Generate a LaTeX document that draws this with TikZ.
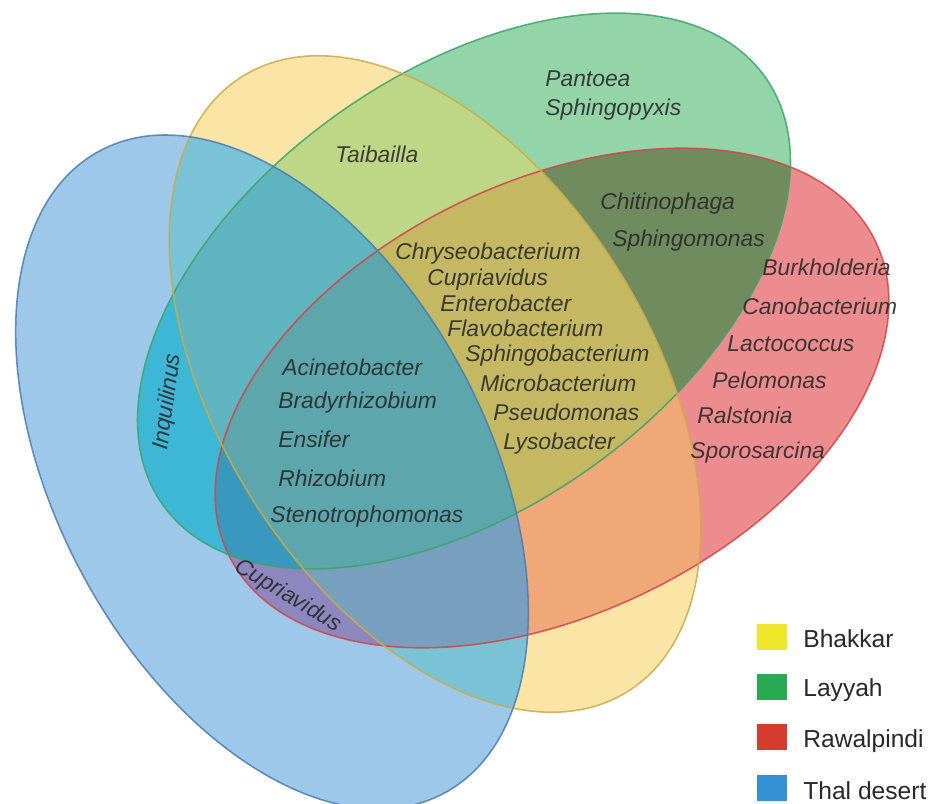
\documentclass[tikz,border=0pt]{standalone}
\usepackage{fontspec}
\setmainfont{Liberation Sans}
% single-set colours
\definecolor{cY}{RGB}{250,228,166}
\definecolor{cG}{RGB}{147,212,168}
\definecolor{cR}{RGB}{236,140,143}
\definecolor{cB}{RGB}{158,200,234}
% pairs
\definecolor{cYG}{RGB}{190,215,135}
\definecolor{cYR}{RGB}{240,168,120}
\definecolor{cYB}{RGB}{122,195,214}
\definecolor{cGR}{RGB}{112,140,95}
\definecolor{cGB}{RGB}{62,183,214}
\definecolor{cRB}{RGB}{140,135,190}
% triples
\definecolor{cYGR}{RGB}{196,184,98}
\definecolor{cYGB}{RGB}{95,180,192}
\definecolor{cYRB}{RGB}{120,160,190}
\definecolor{cGRB}{RGB}{58,152,190}
% all four
\definecolor{cYGRB}{RGB}{92,166,172}
% outlines
\definecolor{yelD}{RGB}{205,170,70}
\definecolor{grnD}{RGB}{60,165,105}
\definecolor{redD}{RGB}{210,70,70}
\definecolor{bluD}{RGB}{75,125,178}
% legend
\definecolor{yelL}{RGB}{238,232,40}
\definecolor{grnL}{RGB}{40,170,80}
\definecolor{redL}{RGB}{213,60,45}
\definecolor{bluL}{RGB}{50,145,210}
\definecolor{txt}{RGB}{40,40,40}
\begin{document}
\begin{tikzpicture}[x=0.02cm,y=-0.02cm,
  eY/.style={rotate around={-57.9:(435,384)}, insert path={(435,384) ellipse [x radius=7.26cm, y radius=4.32cm]}},
  eG/.style={rotate around={35.4:(464,291)}, insert path={(464,291) ellipse [x radius=7.39cm, y radius=4.35cm]}},
  eR/.style={rotate around={25.9:(552,398)}, insert path={(552,398) ellipse [x radius=7.19cm, y radius=4.32cm]}},
  eB/.style={rotate around={-61.8:(272,472)}, insert path={(272,472) ellipse [x radius=7.29cm, y radius=4.31cm]}},
  rim/.style={line width=0.9pt, draw opacity=0.85},
  sp/.style={anchor=base west, inner sep=0pt, text=txt, text opacity=0.88, font=\fontsize{13}{15}\selectfont\itshape},
  legbox/.style={minimum width=0.6cm, minimum height=0.54cm, inner sep=0pt},
  legtxt/.style={anchor=base west, inner sep=0pt, text=txt, font=\fontsize{14}{16}\selectfont}]
\useasboundingbox (0,0) rectangle (931,804);
% single sets
\fill[eR, fill=cR];
\fill[eG, fill=cG];
\fill[eY, fill=cY];
\fill[eB, fill=cB];
% pairs
\begin{scope}\clip[eY]; \fill[eG, fill=cYG];\end{scope}
\begin{scope}\clip[eY]; \fill[eR, fill=cYR];\end{scope}
\begin{scope}\clip[eY]; \fill[eB, fill=cYB];\end{scope}
\begin{scope}\clip[eG]; \fill[eR, fill=cGR];\end{scope}
\begin{scope}\clip[eG]; \fill[eB, fill=cGB];\end{scope}
\begin{scope}\clip[eR]; \fill[eB, fill=cRB];\end{scope}
% triples
\begin{scope}\clip[eY]; \clip[eG]; \fill[eR, fill=cYGR];\end{scope}
\begin{scope}\clip[eY]; \clip[eG]; \fill[eB, fill=cYGB];\end{scope}
\begin{scope}\clip[eY]; \clip[eR]; \fill[eB, fill=cYRB];\end{scope}
\begin{scope}\clip[eG]; \clip[eR]; \fill[eB, fill=cGRB];\end{scope}
% all four
\begin{scope}\clip[eY]; \clip[eG]; \clip[eR]; \fill[eB, fill=cYGRB];\end{scope}
% outlines
\draw[eR, rim, draw=redD];
\draw[eG, rim, draw=grnD];
\draw[eY, rim, draw=yelD];
\draw[eB, rim, draw=bluD];
% species
\node[sp] (pant) at (545,87) {Pantoea};
\node[sp] (sphx) at (545,116) {Sphingopyxis};
\node[sp] (taib) at (335,163) {Taibailla};
\node[sp] (chit) at (600,210) {Chitinophaga};
\node[sp] (sphm) at (612,247) {Sphingomonas};
\node[sp] (burk) at (762,276) {Burkholderia};
\node[sp] (cano) at (742,315) {Canobacterium};
\node[sp] (lact) at (727,352) {Lactococcus};
\node[sp] (pelo) at (712,389) {Pelomonas};
\node[sp] (rals) at (697,424) {Ralstonia};
\node[sp] (spor) at (690,459) {Sporosarcina};
\node[sp] (chry) at (395,260) {Chryseobacterium};
\node[sp] (cupa) at (427,286) {Cupriavidus};
\node[sp] (ente) at (440,312) {Enterobacter};
\node[sp] (flav) at (447,337) {Flavobacterium};
\node[sp] (sphb) at (465,362) {Sphingobacterium};
\node[sp] (micr) at (480,392) {Microbacterium};
\node[sp] (pseu) at (493,421) {Pseudomonas};
\node[sp] (lyso) at (503,450) {Lysobacter};
\node[sp] (acin) at (282,376) {Acinetobacter};
\node[sp] (brad) at (278,409) {Bradyrhizobium};
\node[sp] (ensi) at (278,448) {Ensifer};
\node[sp] (rhiz) at (278,487) {Rhizobium};
\node[sp] (sten) at (270,523) {Stenotrophomonas};
\node[sp, anchor=center, rotate=82] (inqu) at (168,402) {Inquilinus};
\node[sp, anchor=center, rotate=-31] (cupb) at (288,596) {Cupriavidus};
% legend
\node[legbox, fill=yelL] (lb1) at (772,637) {};
\node[legbox, fill=grnL] (lb2) at (772,687) {};
\node[legbox, fill=redL] (lb3) at (772,737) {};
\node[legbox, fill=bluL] (lb4) at (772,788) {};
\node[legtxt] (lt1) at (803,647) {Bhakkar};
\node[legtxt] (lt2) at (803,697) {Layyah};
\node[legtxt] (lt3) at (803,747) {Rawalpindi};
\node[legtxt] (lt4) at (803,799) {Thal desert};
\end{tikzpicture}
\end{document}
